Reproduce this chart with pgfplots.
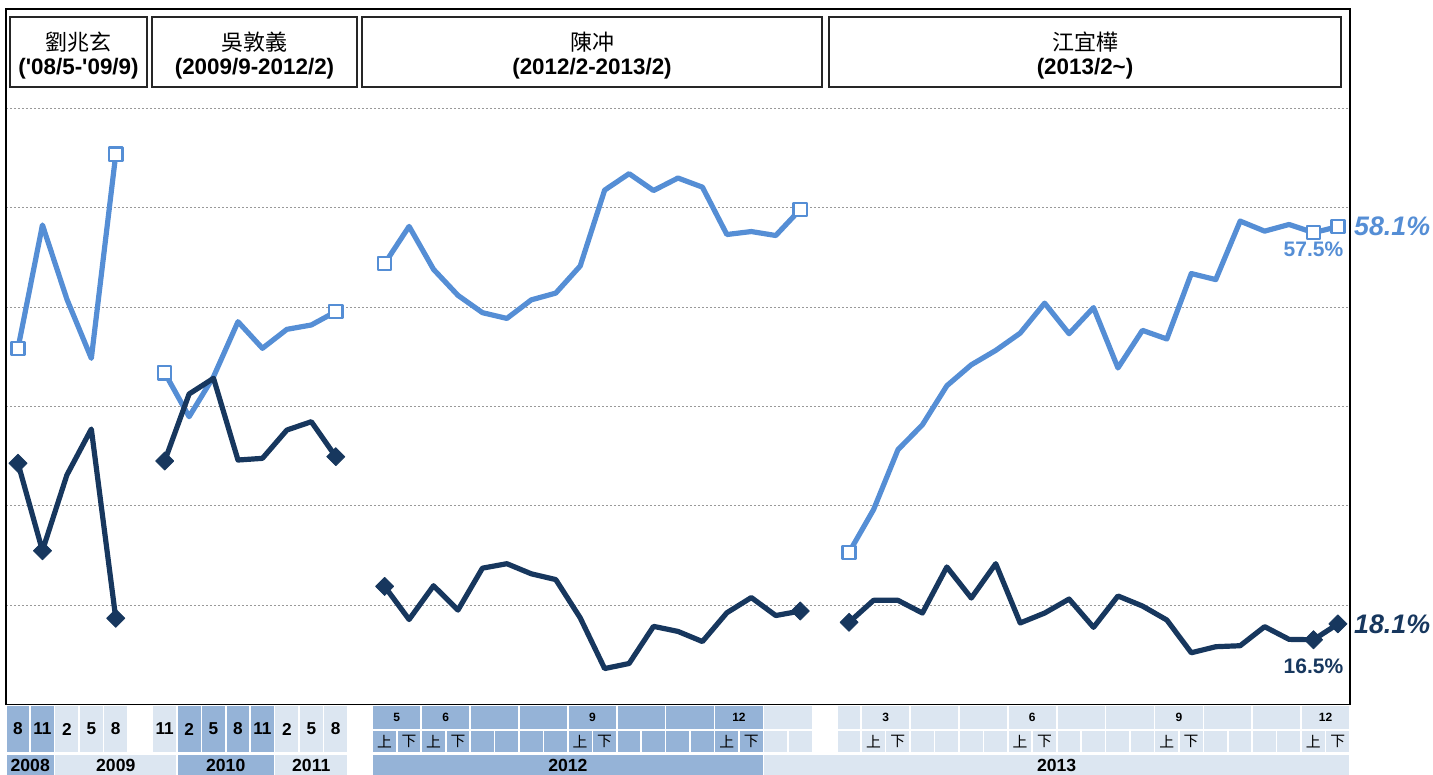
\documentclass[border=0pt]{standalone}
\usepackage{fontspec}
\setmainfont{Liberation Sans}
\newfontfamily\cjk{Noto Sans CJK TC}
\usepackage{pgfplots}
\pgfplotsset{compat=1.18}
\definecolor{lb}{HTML}{558ED5}
\definecolor{db}{HTML}{17375E}
\definecolor{cd}{HTML}{95B3D7}
\definecolor{cl}{HTML}{DCE6F1}
\newcommand\mf{\bfseries\fontsize{8.6pt}{9pt}\selectfont}
\newcommand\yf{\bfseries\fontsize{8.8pt}{9pt}\selectfont}
\newcommand\smf{\bfseries\fontsize{6pt}{6pt}\selectfont}
\newcommand\hf{\cjk\fontsize{7.4pt}{8pt}\selectfont}
% i0 i1 y0 y1 colour text
\newcommand\cell[6]{%
  \fill[#5] ({5.78+24.44*#1+0.8},#3) rectangle ({5.78+24.44*(#2+1)-0.8},#4);
  \node[inner sep=0pt] at ({5.78+24.44*(#1+#2+1)/2},{(#3+#4)/2}) {#6};}
% x0 x1 name dates
\newcommand\namebox[4]{%
  \draw[draw=black!85, fill=white, line width=1pt] (#1,17) rectangle (#2,87);
  \node[inner sep=0pt, font=\cjk\fontsize{11pt}{12pt}\selectfont] at ({(#1+#2)/2},42) {#3};
  \node[inner sep=0pt, font=\bfseries\fontsize{11.2pt}{12pt}\selectfont] at ({(#1+#2)/2},69) {#4};}
\begin{document}
\begin{tikzpicture}
\path[use as bounding box] (0,0) rectangle (716.5pt,-387.5pt);
\begin{axis}[
  at={(2.89pt,-352.15pt)}, anchor=south west,
  scale only axis, width=672.2pt, height=347.55pt,
  xmin=-0.5, xmax=54.5, ymin=10, ymax=80,
  xtick=\empty, ytick={20,30,40,50,60,70}, yticklabels={},
  major tick length=0pt,
  ymajorgrids, grid style={gray!80, dash pattern=on 1.2pt off 0.8pt, line width=0.4pt},
  axis line style={black, line width=0.8pt},
  clip=false,
  every axis plot/.append style={line width=2.6pt, line join=round},
]
% light series (open squares)
\addplot[lb, mark=square*, mark indices={1,5}, mark size=3.3pt, mark options={fill=white, draw=lb, line width=1.2pt}] coordinates {
 (0,45.85) (1,58.27) (2,50.8) (3,44.84) (4,65.39)};
\addplot[lb, mark=square*, mark indices={1,8}, mark size=3.3pt, mark options={fill=white, draw=lb, line width=1.2pt}] coordinates {
 (6,43.39) (7,38.96) (8,42.99) (9,48.53) (10,45.85) (11,47.76) (12,48.20) (13,49.54)};
\addplot[lb, mark=square*, mark indices={1,18}, mark size=3.3pt, mark options={fill=white, draw=lb, line width=1.2pt}] coordinates {
 (15,54.38) (16,58.13) (17,53.80) (18,51.18) (19,49.44) (20,48.86) (21,50.73) (22,51.41) (23,54.14)
 (24,61.78) (25,63.44) (26,61.74) (27,63.00) (28,62.08) (29,57.31) (30,57.61) (31,57.21) (32,59.83)};
\addplot[lb, mark=square*, mark indices={1,20,21}, mark size=3.3pt, mark options={fill=white, draw=lb, line width=1.2pt}] coordinates {
 (34,25.30) (35,29.60) (36,35.64) (37,38.15) (38,42.08) (39,44.19) (40,45.64) (41,47.38) (42,50.40)
 (43,47.32) (44,49.95) (45,43.87) (46,47.66) (47,46.79) (48,53.38) (49,52.77) (50,58.66) (51,57.65)
 (52,58.32) (53,57.5) (54,58.1)};
% dark series (filled diamonds)
\addplot[db, mark=square*, mark indices={1,2,5}, mark size=3.2pt, mark options={fill=db, draw=db, rotate=45, line width=0.4pt}] coordinates {
 (0,34.27) (1,25.47) (2,33.09) (3,37.72) (4,18.66)};
\addplot[db, mark=square*, mark indices={1,8}, mark size=3.2pt, mark options={fill=db, draw=db, rotate=45, line width=0.4pt}] coordinates {
 (6,34.50) (7,41.25) (8,42.83) (9,34.60) (10,34.77) (11,37.62) (12,38.46) (13,34.94)};
\addplot[db, mark=square*, mark indices={1,18}, mark size=3.2pt, mark options={fill=db, draw=db, rotate=45, line width=0.4pt}] coordinates {
 (15,21.87) (16,18.54) (17,21.94) (18,19.49) (19,23.71) (20,24.16) (21,23.14) (22,22.56) (23,18.71)
 (24,13.60) (25,14.11) (26,17.85) (27,17.34) (28,16.32) (29,19.22) (30,20.75) (31,18.94) (32,19.39)};
\addplot[db, mark=square*, mark indices={1,20,21}, mark size=3.2pt, mark options={fill=db, draw=db, rotate=45, line width=0.4pt}] coordinates {
 (34,18.26) (35,20.47) (36,20.47) (37,19.19) (38,23.83) (39,20.70) (40,24.16) (41,18.19) (42,19.19)
 (43,20.60) (44,17.75) (45,20.91) (46,19.90) (47,18.49) (48,15.19) (49,15.80) (50,15.90) (51,17.82)
 (52,16.54) (53,16.5) (54,18.1)};
% value labels
\node[anchor=west, text=lb, inner sep=1.8pt, font=\bfseries\itshape\fontsize{13.4pt}{15pt}\selectfont] at (axis cs:54.5,58.1) {58.1\%};
\node[anchor=west, text=db, inner sep=1.8pt, font=\bfseries\itshape\fontsize{13.4pt}{15pt}\selectfont] at (axis cs:54.5,18.1) {18.1\%};
\node[text=lb, inner sep=0pt, yshift=-8.3pt, font=\bfseries\fontsize{10.5pt}{12pt}\selectfont] at (axis cs:53,57.5) {57.5\%};
\node[text=db, inner sep=0pt, yshift=-13.5pt, font=\bfseries\fontsize{10.5pt}{12pt}\selectfont] at (axis cs:53,16.5) {16.5\%};
\end{axis}
\begin{scope}[x=0.5pt,y=-0.5pt]
% name boxes
\namebox{10}{147}{劉兆玄}{(\textquotesingle08/5-\textquotesingle09/9)}
\namebox{152}{357}{吳敦義}{(2009/9-2012/2)}
\namebox{362}{822}{陳冲}{(2012/2-2013/2)}
\namebox{829}{1341}{江宜樺}{(2013/2\textasciitilde)}
% month row (2008-2011)
\cell{0}{0}{706}{752}{cd}{\mf 8}
\cell{1}{1}{706}{752}{cd}{\mf 11}
\cell{2}{2}{706}{752}{cl}{\mf 2}
\cell{3}{3}{706}{752}{cl}{\mf 5}
\cell{4}{4}{706}{752}{cl}{\mf 8}
\cell{6}{6}{706}{752}{cl}{\mf 11}
\cell{7}{7}{706}{752}{cd}{\mf 2}
\cell{8}{8}{706}{752}{cd}{\mf 5}
\cell{9}{9}{706}{752}{cd}{\mf 8}
\cell{10}{10}{706}{752}{cd}{\mf 11}
\cell{11}{11}{706}{752}{cl}{\mf 2}
\cell{12}{12}{706}{752}{cl}{\mf 5}
\cell{13}{13}{706}{752}{cl}{\mf 8}
% month row (2012-2013)
\cell{15}{16}{706}{729}{cd}{\smf 5}
\cell{17}{18}{706}{729}{cd}{\smf 6}
\cell{19}{20}{706}{729}{cd}{}
\cell{21}{22}{706}{729}{cd}{}
\cell{23}{24}{706}{729}{cd}{\smf 9}
\cell{25}{26}{706}{729}{cd}{}
\cell{27}{28}{706}{729}{cd}{}
\cell{29}{30}{706}{729}{cd}{\smf 12}
\cell{31}{32}{706}{729}{cl}{}
\cell{34}{34}{706}{729}{cl}{}
\cell{35}{36}{706}{729}{cl}{\smf 3}
\cell{37}{38}{706}{729}{cl}{}
\cell{39}{40}{706}{729}{cl}{}
\cell{41}{42}{706}{729}{cl}{\smf 6}
\cell{43}{44}{706}{729}{cl}{}
\cell{45}{46}{706}{729}{cl}{}
\cell{47}{48}{706}{729}{cl}{\smf 9}
\cell{49}{50}{706}{729}{cl}{}
\cell{51}{52}{706}{729}{cl}{}
\cell{53}{54}{706}{729}{cl}{\smf 12}
% half-month row
\foreach \i in {15,...,30}{\cell{\i}{\i}{731}{752}{cd}{}}
\foreach \i in {31,32,34,35,...,54}{\cell{\i}{\i}{731}{752}{cl}{}}
\foreach \i in {15,17,23,29,35,41,47,53}{\node[inner sep=0pt, font=\hf] at ({5.78+24.44*(\i+0.5)},741.5) {上};}
\foreach \i in {16,18,24,30,36,42,48,54}{\node[inner sep=0pt, font=\hf] at ({5.78+24.44*(\i+0.5)},741.5) {下};}
% year row
\cell{0}{1}{755}{775}{cd}{\yf 2008}
\cell{2}{6}{755}{775}{cl}{\yf 2009}
\cell{7}{10}{755}{775}{cd}{\yf 2010}
\cell{11}{13}{755}{775}{cl}{\yf 2011}
\cell{15}{30}{755}{775}{cd}{\yf 2012}
\cell{31}{54}{755}{775}{cl}{\yf 2013}
\end{scope}
\end{tikzpicture}
\end{document}
